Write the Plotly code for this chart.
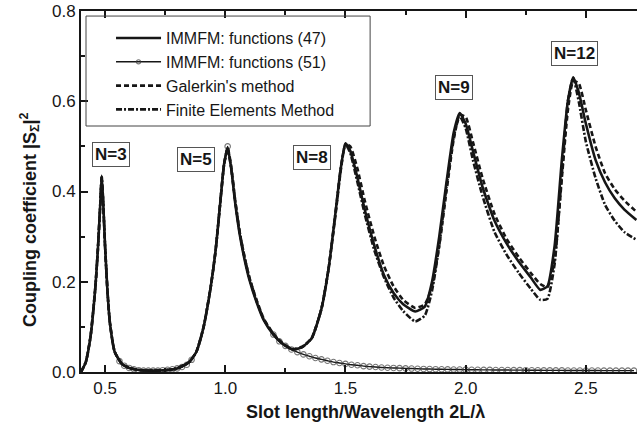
import plotly.graph_objects as go

# Slot length / wavelength (2L/lambda) sample points shared by the full-range curves
x_common = [0.40, 0.42, 0.44, 0.46, 0.47, 0.48, 0.486, 0.492, 0.50, 0.51,
            0.52, 0.54, 0.57, 0.60, 0.65, 0.70, 0.75, 0.80, 0.85, 0.88,
            0.91, 0.94, 0.96, 0.98, 0.995, 1.01, 1.025, 1.04, 1.06, 1.08,
            1.10, 1.13, 1.16, 1.20, 1.24, 1.28, 1.32, 1.36, 1.40, 1.43,
            1.46, 1.48, 1.50, 1.52, 1.55, 1.58, 1.62, 1.66, 1.70, 1.74,
            1.79, 1.83, 1.86, 1.89, 1.92, 1.95, 1.975, 2.00, 2.03, 2.07,
            2.12, 2.17, 2.22, 2.27, 2.31, 2.34, 2.37, 2.40, 2.425, 2.447,
            2.47, 2.50, 2.54, 2.58, 2.62, 2.66, 2.71]

# IMMFM with 47 functions
y_immfm47 = [0.000, 0.022, 0.080, 0.190, 0.270, 0.370, 0.435, 0.380, 0.280, 0.180,
             0.110, 0.045, 0.018, 0.009, 0.004, 0.003, 0.004, 0.008, 0.022, 0.045,
             0.100, 0.190, 0.270, 0.380, 0.460, 0.497, 0.450, 0.380, 0.305, 0.250,
             0.205, 0.155, 0.115, 0.083, 0.062, 0.050, 0.055, 0.075, 0.140, 0.230,
             0.360, 0.450, 0.507, 0.490, 0.430, 0.360, 0.280, 0.215, 0.175, 0.150,
             0.134, 0.145, 0.200, 0.300, 0.420, 0.530, 0.574, 0.550, 0.490, 0.410,
             0.335, 0.285, 0.245, 0.210, 0.182, 0.190, 0.280, 0.470, 0.600, 0.653,
             0.620, 0.550, 0.470, 0.420, 0.385, 0.360, 0.337]

# Galerkin's method
y_galerkin = [0.000, 0.022, 0.080, 0.190, 0.270, 0.370, 0.435, 0.380, 0.280, 0.180,
              0.110, 0.045, 0.018, 0.009, 0.004, 0.003, 0.004, 0.008, 0.022, 0.045,
              0.100, 0.190, 0.270, 0.380, 0.460, 0.497, 0.455, 0.385, 0.310, 0.255,
              0.210, 0.160, 0.118, 0.085, 0.063, 0.051, 0.056, 0.076, 0.140, 0.230,
              0.355, 0.445, 0.505, 0.500, 0.450, 0.380, 0.300, 0.235, 0.190, 0.160,
              0.142, 0.150, 0.190, 0.280, 0.400, 0.515, 0.570, 0.565, 0.510, 0.430,
              0.350, 0.295, 0.255, 0.220, 0.195, 0.188, 0.250, 0.430, 0.580, 0.645,
              0.640, 0.580, 0.500, 0.440, 0.405, 0.380, 0.355]

# Finite Elements Method
y_fem = [0.000, 0.022, 0.080, 0.190, 0.270, 0.370, 0.432, 0.380, 0.280, 0.180,
         0.110, 0.045, 0.018, 0.009, 0.004, 0.003, 0.004, 0.008, 0.022, 0.045,
         0.100, 0.190, 0.270, 0.380, 0.460, 0.495, 0.450, 0.385, 0.310, 0.255,
         0.210, 0.158, 0.117, 0.084, 0.062, 0.050, 0.055, 0.075, 0.140, 0.230,
         0.360, 0.450, 0.505, 0.485, 0.420, 0.350, 0.270, 0.210, 0.165, 0.135,
         0.112, 0.125, 0.180, 0.280, 0.410, 0.520, 0.567, 0.540, 0.470, 0.390,
         0.310, 0.260, 0.220, 0.185, 0.160, 0.162, 0.240, 0.440, 0.600, 0.652,
         0.600, 0.510, 0.430, 0.370, 0.335, 0.310, 0.293]

# IMMFM with 51 functions (its own sampling)
x_immfm51 = [0.40, 0.42, 0.44, 0.46, 0.47, 0.48, 0.486, 0.492, 0.50, 0.51,
             0.52, 0.54, 0.56, 0.58, 0.60, 0.62, 0.64, 0.66, 0.68, 0.70,
             0.72, 0.74, 0.76, 0.78, 0.80, 0.82, 0.84, 0.86, 0.88, 0.91,
             0.94, 0.96, 0.98, 0.995, 1.01, 1.025, 1.04, 1.06, 1.08, 1.10,
             1.13, 1.16, 1.20,
             1.225, 1.25, 1.275, 1.30, 1.325, 1.35, 1.375, 1.40, 1.425, 1.45,
             1.475, 1.50, 1.525, 1.55, 1.575, 1.60, 1.625, 1.65, 1.675, 1.70,
             1.725, 1.75, 1.775, 1.80, 1.825, 1.85, 1.875, 1.90, 1.925, 1.95,
             1.975, 2.00, 2.025, 2.05, 2.075, 2.10, 2.125, 2.15, 2.175, 2.20,
             2.225, 2.25, 2.275, 2.30, 2.325, 2.35, 2.375, 2.40, 2.425, 2.45,
             2.475, 2.50, 2.525, 2.55, 2.575, 2.60, 2.625, 2.65, 2.675, 2.70]
y_immfm51 = [0.000, 0.022, 0.080, 0.190, 0.270, 0.370, 0.433, 0.380, 0.280, 0.180,
             0.110, 0.045, 0.024, 0.014, 0.009, 0.006, 0.004, 0.003, 0.003, 0.003,
             0.003, 0.004, 0.005, 0.006, 0.008, 0.011, 0.016, 0.027, 0.045, 0.100,
             0.190, 0.270, 0.380, 0.460, 0.500, 0.450, 0.380, 0.305, 0.250, 0.205,
             0.155, 0.115, 0.083,
             0.068, 0.058, 0.050, 0.044, 0.039, 0.035, 0.031, 0.028, 0.025, 0.022,
             0.020, 0.018, 0.016, 0.015, 0.013, 0.012, 0.011, 0.010, 0.0095, 0.009,
             0.0085, 0.008, 0.0076, 0.0072, 0.0068, 0.0065, 0.0062, 0.006, 0.0058, 0.0056,
             0.0054, 0.0052, 0.005, 0.0049, 0.0047, 0.0046, 0.0045, 0.0044, 0.0043, 0.0042,
             0.0041, 0.004, 0.0039, 0.0038, 0.0037, 0.0036, 0.0036, 0.0035, 0.0034, 0.0034,
             0.0033, 0.0033, 0.0032, 0.0032, 0.0031, 0.0031, 0.003, 0.003, 0.003, 0.003]

# Resonance labels (number of slots N)
peak_labels = ["N=3", "N=5", "N=8", "N=9", "N=12"]
label_x = [0.525, 0.878, 1.359, 1.950, 2.451]
label_y = [0.481, 0.472, 0.476, 0.630, 0.705]

x_ticks = [0.5, 1.0, 1.5, 2.0, 2.5]
x_ticktext = ["0.5", "1.0", "1.5", "2.0", "2.5"]
y_ticks = [0.0, 0.2, 0.4, 0.6, 0.8]
y_ticktext = ["0.0", "0.2", "0.4", "0.6", "0.8"]

INK = "#161616"
FONT = "Liberation Sans"

# circle markers only where the 51-function curve is flat (steep flanks stay a plain line)
marker_sizes = [5.5 if (xv >= 1.2 or 0.55 <= xv <= 0.87 or xv == 1.01) else 0
                for xv in x_immfm51]

fig = go.Figure()

fig.add_trace(go.Scatter(
    x=x_immfm51, y=y_immfm51, name="IMMFM: functions (51)", mode="lines+markers",
    legendrank=2,
    line=dict(color=INK, width=1.4, shape="spline", smoothing=0.5),
    marker=dict(symbol="circle-open", size=marker_sizes, color="#3a3a3a",
                line=dict(width=1.1, color="#3a3a3a"))))

fig.add_trace(go.Scatter(
    x=x_common, y=y_immfm47, name="IMMFM: functions (47)", mode="lines",
    legendrank=1,
    line=dict(color=INK, width=2.6, shape="spline", smoothing=0.5)))

fig.add_trace(go.Scatter(
    x=x_common, y=y_galerkin, name="Galerkin's method", mode="lines",
    legendrank=3,
    line=dict(color=INK, width=2.6, dash="5px,3px", shape="spline", smoothing=0.5)))

fig.add_trace(go.Scatter(
    x=x_common, y=y_fem, name="Finite Elements Method", mode="lines",
    legendrank=4,
    line=dict(color=INK, width=2.6, dash="6px,2px,2px,2px", shape="spline", smoothing=0.5)))

for txt, lx, ly in zip(peak_labels, label_x, label_y):
    fig.add_annotation(
        x=lx, y=ly, text=txt, showarrow=False,
        font=dict(family=FONT, size=17, color=INK, weight="bold"),
        bordercolor="#555", borderwidth=1, borderpad=2, bgcolor="white")

# axis titles
fig.add_annotation(
    xref="paper", yref="paper", x=0.511, y=-0.111, showarrow=False,
    xanchor="center", yanchor="middle",
    text="Slot length/Wavelength 2L/λ",
    font=dict(family=FONT, size=18, color=INK, weight="bold"))
fig.add_annotation(
    xref="paper", yref="paper", x=-0.0935, y=0.421, showarrow=False, textangle=-90,
    xanchor="center", yanchor="middle",
    text="Coupling coefficient |S<sub>Σ</sub>|<sup>2</sup>",
    font=dict(family=FONT, size=18, color=INK, weight="bold"))

# frame around the legend
fig.add_shape(type="rect", xref="paper", yref="paper",
              x0=0.009, x1=0.52, y0=0.6814, y1=0.986,
              line=dict(color="#444", width=1), fillcolor="rgba(0,0,0,0)")

fig.update_layout(
    width=637, height=436,
    margin=dict(l=81, r=0, t=11, b=64),
    plot_bgcolor="white", paper_bgcolor="white",
    font=dict(family=FONT, color=INK),
    showlegend=True,
    legend=dict(x=0.054, y=0.972, xanchor="left", yanchor="top",
                bgcolor="rgba(0,0,0,0)", borderwidth=0,
                font=dict(family=FONT, size=16, color=INK),
                itemwidth=45, tracegroupgap=0),
)

fig.update_xaxes(
    range=[0.4, 2.7125], showline=True, linecolor=INK, linewidth=2,
    mirror="ticks", ticks="inside", ticklen=7, tickwidth=1.5, tickcolor=INK,
    tickvals=x_ticks, ticktext=x_ticktext,
    minor=dict(dtick=0.25, tick0=0.25, ticks="inside", ticklen=4, tickwidth=1.5, tickcolor=INK),
    showgrid=False, zeroline=False,
    tickfont=dict(family=FONT, size=17, color=INK),
)

fig.update_yaxes(
    range=[0.0, 0.8], showline=True, linecolor=INK, linewidth=2,
    mirror=False, ticks="inside", ticklen=7, tickwidth=1.5, tickcolor=INK,
    tickvals=y_ticks, ticktext=y_ticktext,
    minor=dict(dtick=0.1, tick0=0.0, ticks="inside", ticklen=4, tickwidth=1.5, tickcolor=INK),
    showgrid=False, zeroline=False,
    tickfont=dict(family=FONT, size=17, color=INK),
)

fig.write_html("out.html")
